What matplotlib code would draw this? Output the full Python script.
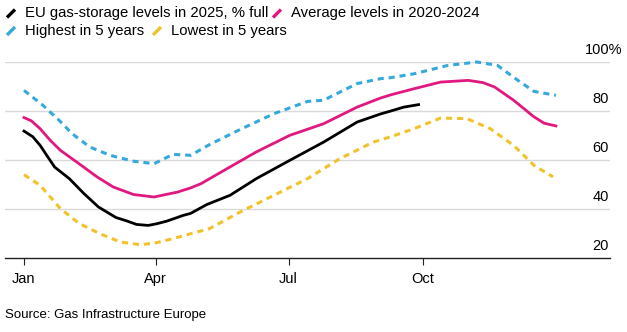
import matplotlib.pyplot as plt
import matplotlib.lines as mlines

# day-of-year readings (0 = Jan 1)
days_2025 = [0, 6, 11, 16, 21, 31, 41, 51, 63, 70, 77, 85, 91, 98, 109, 114, 125, 141, 159, 182, 205, 228, 244, 251, 260, 270]
vals_2025 = [71.8, 69.5, 66.0, 61.5, 57.1, 52.4, 46.3, 40.8, 36.5, 35.2, 33.7, 33.3, 34.0, 35.1, 37.4, 38.2, 41.8, 45.6, 52.4, 59.9, 67.3, 75.5, 78.8, 80.0, 81.6, 82.6]

days_avg = [0, 5, 11, 18, 25, 36, 50, 61, 75, 89, 105, 114, 121, 137, 159, 182, 205, 228, 244, 251, 267, 285, 304, 314, 322, 335, 349, 356, 364]
vals_avg = [77.3, 76.0, 72.8, 68.0, 63.9, 59.2, 53.1, 49.0, 45.9, 44.9, 46.9, 48.6, 50.3, 55.8, 63.3, 70.1, 74.8, 81.6, 85.3, 86.6, 89.1, 91.8, 92.5, 91.6, 89.8, 84.4, 77.6, 75.0, 73.9]

days_high = [0, 13, 24, 33, 45, 59, 75, 89, 102, 114, 127, 148, 171, 194, 205, 228, 244, 251, 267, 290, 310, 324, 338, 349, 364]
vals_high = [88.4, 82.3, 76.2, 70.7, 65.3, 61.9, 59.5, 58.5, 62.3, 61.9, 66.3, 72.5, 78.9, 83.9, 84.4, 91.2, 93.2, 93.6, 95.2, 98.6, 100.0, 98.6, 92.5, 88.0, 86.4]

days_low = [0, 11, 25, 38, 52, 66, 80, 91, 102, 114, 127, 148, 171, 194, 216, 239, 251, 267, 285, 303, 319, 335, 349, 362]
vals_low = [54.0, 49.7, 40.1, 34.0, 29.9, 26.5, 25.4, 26.3, 27.9, 29.9, 32.0, 38.8, 45.6, 52.4, 60.5, 67.3, 69.5, 72.8, 77.1, 76.9, 72.8, 66.0, 57.8, 53.1]

month_days = [0, 90, 181, 273]
month_labels = ['Jan', 'Apr', 'Jul', 'Oct']
y_ticks = [20, 40, 60, 80, 100]

c_black = '#000000'
c_pink = '#e0187f'
c_blue = '#35a9dc'
c_yellow = '#f1c22c'

plt.rcParams['font.family'] = ['Liberation Sans', 'DejaVu Sans']

fig = plt.figure(figsize=(6.27, 3.32), dpi=100)
ax = fig.add_axes([5 / 627, 1 - 258 / 332, 605 / 627, 196 / 332])

for y in y_ticks[1:]:
    ax.axhline(y, color='#d9d9d9', lw=1.0, zorder=0)

ax.plot(days_low, vals_low, color=c_yellow, lw=2.2, ls=(0, (2.0, 1.6)), clip_on=False)
ax.plot(days_high, vals_high, color=c_blue, lw=2.2, ls=(0, (2.0, 1.6)), clip_on=False)
ax.plot(days_avg, vals_avg, color=c_pink, lw=2.0, clip_on=False)
ax.plot(days_2025, vals_2025, color=c_black, lw=2.0, clip_on=False)

ax.set_xlim(-13, 401)
ax.set_ylim(20, 100)
for s in ['top', 'right', 'left']:
    ax.spines[s].set_visible(False)
ax.spines['bottom'].set_color('#222222')
ax.spines['bottom'].set_linewidth(1.0)
ax.set_yticks([])
ax.set_xticks(month_days)
ax.set_xticklabels(month_labels, fontsize=10.5)
ax.tick_params(axis='x', length=5, width=0.8, pad=5, color='#222222')

# y labels sit above the gridlines at the right edge
tr = ax.get_yaxis_transform()
for y in y_ticks:
    lab = f'{y}%' if y == 100 else str(y)
    xpos = 1.021 if y == 100 else 0.998
    ax.text(xpos, y + 2.2, lab, transform=tr, ha='right', va='bottom', fontsize=10.5)

# legend
def leg(x, y, color, text):
    fig.add_artist(mlines.Line2D([(x) / 627, (x + 8) / 627], [1 - (y + 4) / 332, 1 - (y - 4) / 332],
                                 color=color, lw=2.4, solid_capstyle='butt'))
    fig.text((x + 18) / 627, 1 - y / 332, text, fontsize=10.7, va='center', ha='left')

leg(7, 13.5, c_black, 'EU gas-storage levels in 2025, % full')
leg(273, 13.5, c_pink, 'Average levels in 2020-2024')
leg(7, 31, c_blue, 'Highest in 5 years')
leg(153, 31, c_yellow, 'Lowest in 5 years')

fig.text(5 / 627, 1 - 315 / 332, 'Source: Gas Infrastructure Europe', fontsize=9.5, va='center', ha='left')

fig.savefig('out.png', dpi=100)
